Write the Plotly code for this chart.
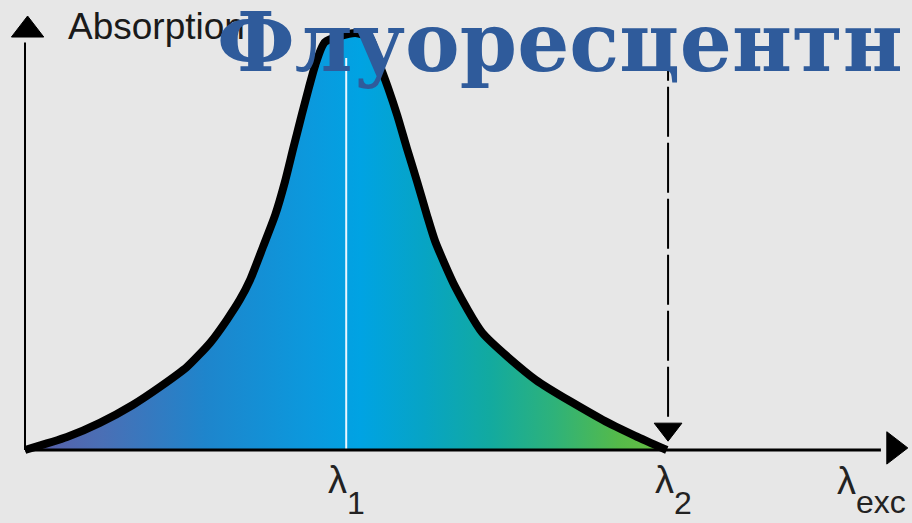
import plotly.graph_objects as go

# absorption curve, x: 0 = axis origin, 100 = lambda2 ; y: 1 = peak
curve_x = [0, 6.5, 11.6, 16.7, 20.9, 25.1, 28.7, 31.3, 33.3, 34.9, 36.9, 38.8,
           40.3, 41.6, 42.9, 44.0, 45.0, 46.5, 51.2, 53.5, 55.0, 56.3, 57.7, 59.2,
           60.8, 62.3, 63.6, 66.7, 70.9, 79.2, 89.6, 94.6, 99.5]
curve_y = [0, 0.031, 0.065, 0.108, 0.151, 0.199, 0.257, 0.312, 0.360, 0.408, 0.487,
           0.564, 0.643, 0.724, 0.803, 0.868, 0.923, 0.978, 1.0, 0.988, 0.923, 0.868,
           0.803, 0.724, 0.643, 0.564, 0.500, 0.391, 0.281, 0.168, 0.072, 0.034, 0]

lambda1 = 50
lambda2 = 100
x_axis_end = 134.7
y_axis_end = 1.007

tick_labels = ["λ<sub><span style='font-size:32px;baseline-shift:-13px'>1</span></sub>",
               "λ<sub><span style='font-size:32px;baseline-shift:-13px'>2</span></sub>",
               "λ<sub><span style='font-size:32px;baseline-shift:-11px'>exc</span></sub>"]
tick_pos = [lambda1 - 0.2, lambda2 + 0.6, 131.3]

gradient = [
    [0.0, "#5a5ca6"],
    [0.12, "#4a6fb5"],
    [0.28, "#1e85cc"],
    [0.45, "#0a9ade"],
    [0.52, "#00a3e3"],
    [0.62, "#07a4c4"],
    [0.72, "#12aaa0"],
    [0.82, "#2eb27a"],
    [0.92, "#55ba4a"],
    [1.0, "#6cc040"],
]

bg = "#e7e7e7"

fig = go.Figure()

fig.add_trace(go.Scatter(
    x=curve_x, y=curve_y, mode="lines",
    line=dict(color="black", width=8, shape="spline", smoothing=0.6),
    fill="tozeroy",
    fillgradient=dict(type="horizontal", colorscale=gradient, start=0, stop=lambda2),
    hoverinfo="skip",
))

# arrow heads
fig.add_trace(go.Scatter(
    x=[0.4, x_axis_end, lambda2 - 0.3],
    y=[y_axis_end, 0.005, 0.05],
    mode="markers",
    marker=dict(symbol=["triangle-up", "triangle-right", "triangle-down"],
                size=[28, 28, 24], color="black", opacity=1,
                line=dict(color="black", width=1)),
    hoverinfo="skip",
))

# white line at lambda1
fig.add_shape(type="line", x0=lambda1 - 0.2, x1=lambda1 - 0.2, y0=0, y1=0.94,
              line=dict(color="#eaf6ff", width=2))
# axes
fig.add_shape(type="line", x0=0, x1=x_axis_end - 2, y0=0, y1=0,
              line=dict(color="black", width=3))
fig.add_shape(type="line", x0=0, x1=0, y0=0, y1=y_axis_end - 0.03,
              line=dict(color="black", width=2))
# dashed excitation arrow
fig.add_shape(type="line", x0=lambda2 - 0.3, x1=lambda2 - 0.3, y0=0.08, y1=0.99,
              line=dict(color="black", width=2, dash="50px,6px"))

for txt, xp in zip(tick_labels, tick_pos):
    fig.add_annotation(x=xp, y=-0.096, text=txt, showarrow=False,
                       xanchor="center", yanchor="middle",
                       font=dict(family="Liberation Sans", size=38, color="#222222"))

fig.add_annotation(x=6.4, y=1.015, text="Absorption", showarrow=False,
                   xanchor="left", yanchor="middle",
                   font=dict(family="Liberation Sans", size=37, color="#1a1a1a"))

fig.add_annotation(x=0.236, y=1.016, xref="paper", yref="paper",
                   text="Флуоресцентн", showarrow=False,
                   xanchor="left", yanchor="top",
                   font=dict(family="DejaVu Serif", size=82, weight="bold", color="#2f5b9b"))

fig.update_xaxes(visible=False, range=[-3.876, 137.52])
fig.update_yaxes(visible=False, range=[-0.175, 1.079])
fig.update_layout(
    width=912, height=523,
    margin=dict(l=0, r=0, t=0, b=0),
    paper_bgcolor=bg, plot_bgcolor=bg,
    showlegend=False,
)

fig.write_html("out.html", config={"displayModeBar": False},
               post_script="document.body.style.margin='0';document.body.style.overflow='hidden';")
